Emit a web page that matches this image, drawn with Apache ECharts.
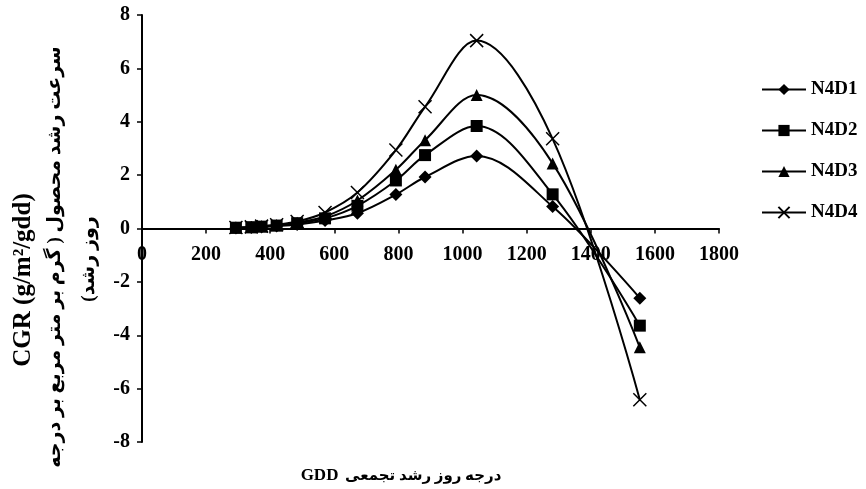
<!DOCTYPE html>
<html>
<head>
<meta charset="utf-8">
<script src="https://cdn.jsdelivr.net/npm/echarts@6/dist/echarts.min.js"></script>
<style>
html,body{margin:0;padding:0;background:#fff;}
#chart{width:866px;height:489px;}
</style>
</head>
<body>
<div id="chart"></div>
<script>
// Data
const gdd  = [293, 341, 373, 420, 484, 571, 672, 792, 883, 1044, 1281, 1553];
const n4d1 = [0.02, 0.04, 0.06, 0.09, 0.15, 0.30, 0.57, 1.27, 1.93, 2.72, 0.82, -2.61];
const n4d2 = [0.03, 0.05, 0.07, 0.11, 0.20, 0.38, 0.85, 1.80, 2.75, 3.84, 1.28, -3.64];
const n4d3 = [0.03, 0.05, 0.08, 0.12, 0.22, 0.45, 1.05, 2.20, 3.31, 5.00, 2.44, -4.45];
const n4d4 = [0.04, 0.06, 0.09, 0.14, 0.26, 0.60, 1.35, 2.94, 4.56, 7.04, 3.36, -6.42];
const seriesNames = ['N4D1', 'N4D2', 'N4D3', 'N4D4'];
const xTicks = {min: 0, max: 1800, interval: 200};
const yTicks = {min: -8, max: 8, interval: 2};

const FONT = '"Liberation Serif", "Times New Roman", "DejaVu Sans", serif';
const pairs = arr => gdd.map((x, i) => [x, arr[i]]);
const symbols = ['diamond', 'rect', 'triangle', 'path://M0,0L10,10M10,0L0,10'];
const sizes = [13, 12, 12, 13];
const values = [n4d1, n4d2, n4d3, n4d4];

const chart = echarts.init(document.getElementById('chart'), null, {renderer: 'canvas'});
chart.setOption({
  animation: false,
  backgroundColor: '#fff',
  grid: {left: 142, right: 147, top: 15, bottom: 47, containLabel: false},
  legend: {
    orient: 'vertical', left: 756, top: 75,
    itemWidth: 44, itemHeight: 14, itemGap: 22,
    textStyle: {color: '#000', fontFamily: FONT, fontWeight: 'bold', fontSize: 19},
    data: seriesNames
  },
  xAxis: {
    type: 'value', min: xTicks.min, max: xTicks.max, interval: xTicks.interval,
    offset: -213.5,
    axisLine: {onZero: false, lineStyle: {color: '#000', width: 2}},
    axisTick: {show: true, length: 5, lineStyle: {color: '#000', width: 1.5}},
    axisLabel: {color: '#000', fontFamily: FONT, fontWeight: 'bold', fontSize: 20, margin: 16,
                formatter: v => String(v)},
    splitLine: {show: false}
  },
  yAxis: {
    type: 'value', min: yTicks.min, max: yTicks.max, interval: yTicks.interval,
    axisLine: {show: true, onZero: false, lineStyle: {color: '#000', width: 2}},
    axisTick: {show: true, length: 5, lineStyle: {color: '#000', width: 1.5}},
    axisLabel: {color: '#000', fontFamily: FONT, fontWeight: 'bold', fontSize: 20, margin: 12},
    splitLine: {show: false}
  },
  series: seriesNames.map((name, i) => ({
    name: name, type: 'line', smooth: 0.35,
    data: pairs(values[i]),
    symbol: symbols[i], symbolSize: sizes[i],
    lineStyle: {color: '#000', width: 2},
    itemStyle: i === 3 ? {color: '#000', borderColor: '#000', borderWidth: 1.5} : {color: '#000'}
  })),
  graphic: [
    {type: 'text', x: 24, y: 280, rotation: Math.PI / 2,
     style: {text: 'CGR (g/m²/gdd)', font: 'bold 25px ' + FONT, fill: '#000', textAlign: 'center', textVerticalAlign: 'middle'}},
    {type: 'text', x: 55, y: 257, rotation: Math.PI / 2,
     style: {text: '\u200Fسرعت رشد محصول ( گرم بر متر مربع بر درجه\u200F', font: 'bold 19px ' + FONT, fill: '#000', textAlign: 'center', textVerticalAlign: 'middle'}},
    {type: 'text', x: 89, y: 259, rotation: Math.PI / 2,
     style: {text: '\u200Fروز رشد)\u200F', font: 'bold 19px ' + FONT, fill: '#000', textAlign: 'center', textVerticalAlign: 'middle'}},
    {type: 'text', x: 401, y: 476,
     style: {text: '{g|GDD}  {p|درجه روز رشد تجمعی}', textAlign: 'center', textVerticalAlign: 'middle',
             rich: {g: {font: 'bold 17px ' + FONT, fill: '#000'}, p: {font: 'bold 15px ' + FONT, fill: '#000'}}}}
  ]
});
</script>
</body>
</html>
